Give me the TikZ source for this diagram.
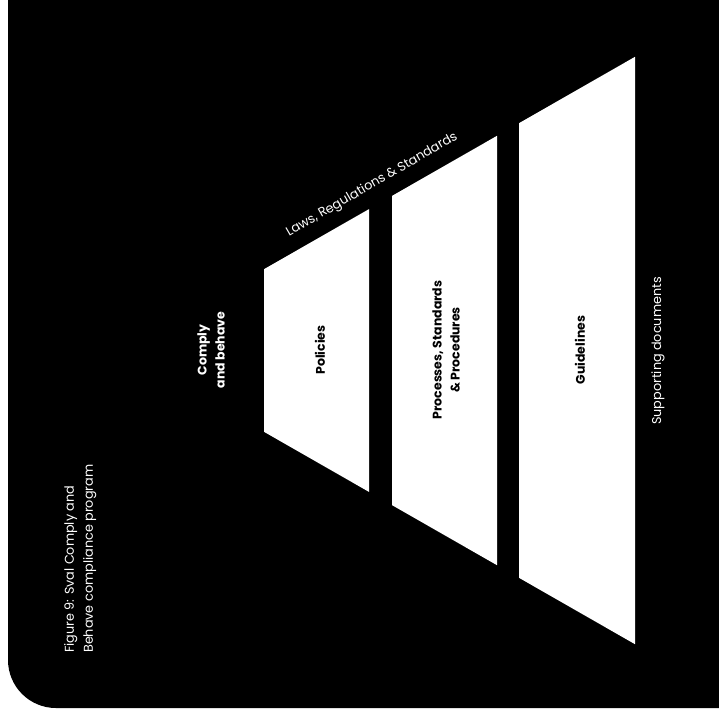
\documentclass[tikz,border=0pt]{standalone}
\usepackage{fontspec}
\setmainfont{Poppins}
\begin{document}
\begin{tikzpicture}[x=1pt,y=-1pt,
		label/.style={text=white,font=\fontsize{12.8}{19}\selectfont,inner sep=0pt},
		tier/.style={text=black,font=\bfseries\fontsize{12.5}{18}\selectfont,align=center,inner sep=0pt,rotate=90},
		band/.style={fill=white}]
			\useasboundingbox (0,0) rectangle (719,710);
			\clip (0,0) rectangle (719,710);
			\fill[black,rounded corners=48pt] (8,-60) -- (8,708) -- (780,708) -- (780,-60) -- cycle;
			\fill[band] (264,269.2) -- (369,209.1) -- (369,491.9) -- (264,431.8) -- cycle;
			\fill[band] (392,195.9) -- (497,135.8) -- (497,565.2) -- (392,505.1) -- cycle;
			\fill[band] (519,123.2) -- (635,56.8) -- (635,644.2) -- (519,577.8) -- cycle;
			\node[tier] (policies) at (320,350) {Policies};
			\node[tier] (processes) at (446,350) {Processes, Standards\\\& Procedures};
			\node[tier] (guidelines) at (580,350) {Guidelines};
			\node[tier,text=white] (comply) at (211,350) {Comply\\and behave};
			\node[label,rotate=30] (laws) at (372,185) {Laws, Regulations \& Standards};
			\node[label,rotate=90] (support) at (658,351) {Supporting documents};
			\node[label,rotate=90,anchor=north west,align=left] (caption) at (64,653) {Figure 9: Sval Comply and\\Behave compliance program};
		\end{tikzpicture}
\end{document}
